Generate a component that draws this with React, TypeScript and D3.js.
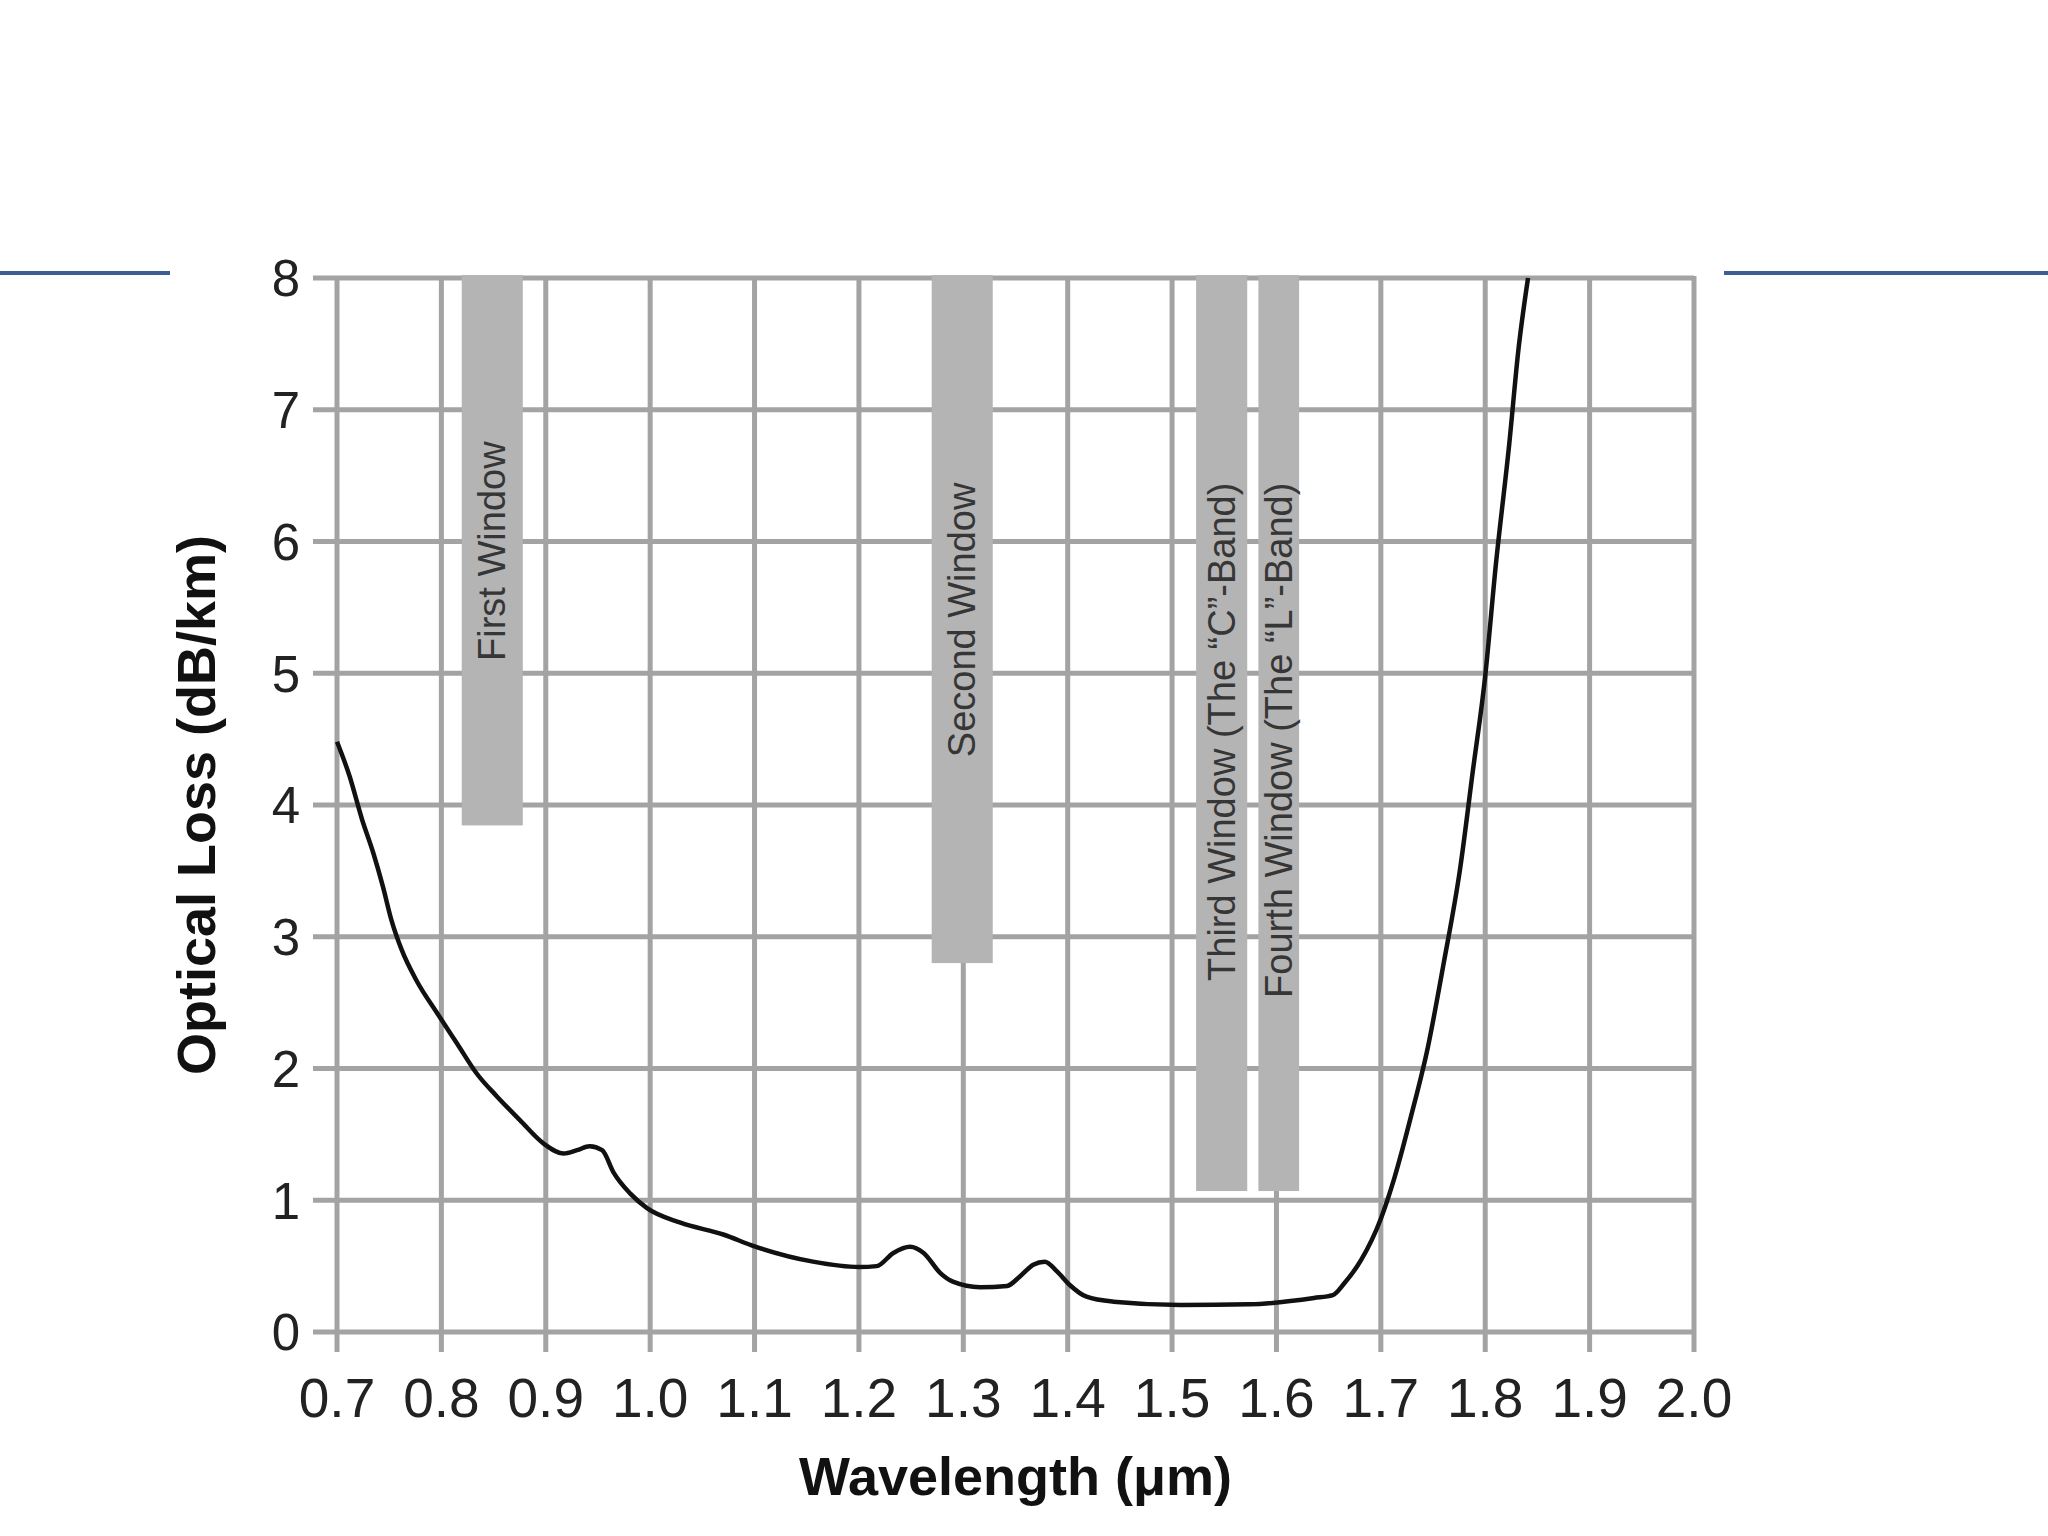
import React from "react";
import * as d3 from "d3";

// ---- Data ----
const wavelengthUm = [
  0.700, 0.712, 0.724, 0.735, 0.744, 0.752, 0.762, 0.776, 0.796, 0.815, 0.834, 0.853, 0.875, 0.898,
  0.917, 0.930, 0.942, 0.954, 0.965, 0.981, 0.997, 1.029, 1.070, 1.100, 1.156, 1.200, 1.217, 1.233,
  1.249, 1.262, 1.278, 1.290, 1.316, 1.342, 1.354, 1.367, 1.378, 1.390, 1.402, 1.418, 1.444, 1.508,
  1.574, 1.636, 1.654, 1.665, 1.681, 1.700, 1.713, 1.729, 1.745, 1.760, 1.776, 1.788, 1.800, 1.810,
  1.823, 1.832, 1.841,
];
const lossDbPerKm = [
  4.48, 4.22, 3.89, 3.63, 3.38, 3.13, 2.90, 2.67, 2.42, 2.19, 1.96, 1.79, 1.61, 1.43,
  1.355, 1.38, 1.41, 1.38, 1.21, 1.05, 0.94, 0.83, 0.74, 0.65, 0.534, 0.493, 0.50, 0.60,
  0.647, 0.60, 0.447, 0.382, 0.34, 0.35, 0.42, 0.51, 0.534, 0.458, 0.357, 0.268, 0.23, 0.205,
  0.21, 0.258, 0.28, 0.37, 0.545, 0.86, 1.17, 1.64, 2.16, 2.79, 3.52, 4.25, 4.98, 5.81,
  6.74, 7.47, 8.0,
];

const bandLabels = [
  "First Window",
  "Second Window",
  "Third Window (The \u201CC\u201D-Band)",
  "Fourth Window (The \u201CL\u201D-Band)",
];
const bandStart = [0.8195, 1.2697, 1.523, 1.5827];
const bandEnd = [0.8780, 1.3282, 1.572, 1.6217];
const bandBottom = [3.845, 2.80, 1.07, 1.07];
const bandLabelTop = [6.76, 6.447, 6.447, 6.447];

const xTicks = [0.7, 0.8, 0.9, 1.0, 1.1, 1.2, 1.3, 1.4, 1.5, 1.6, 1.7, 1.8, 1.9, 2.0];
const yTicks = [0, 1, 2, 3, 4, 5, 6, 7, 8];

const xTitle = "Wavelength (\u03BCm)";
const yTitle = "Optical Loss (dB/km)";

export default function App() {
  const W = 2048;
  const H = 1536;
  const x = d3.scaleLinear().domain([0.7, 2.0]).range([337, 1694]);
  const y = d3.scaleLinear().domain([0, 8]).range([1332, 278]);

  const pts: [number, number][] = wavelengthUm.map((w, i) => [w, lossDbPerKm[i]]);
  const line = d3
    .line<[number, number]>()
    .x((d) => x(d[0]))
    .y((d) => y(d[1]))
    .curve(d3.curveMonotoneX);

  const gridColor = "#a3a3a3";
  const font = "'Liberation Sans', Arial, Helvetica, sans-serif";

  return (
    <svg
      width={W}
      height={H}
      style={{ position: "absolute", left: 0, top: 0, background: "#fff" }}
      fontFamily={font}
    >
      <rect x={0} y={0} width={W} height={H} fill="#ffffff" />
      {/* blue decorative rules */}
      <line x1={0} x2={170} y1={273} y2={273} stroke="#3b5f94" strokeWidth={4} />
      <line x1={1724} x2={2048} y1={273} y2={273} stroke="#3b5f94" strokeWidth={4} />

      {/* grid */}
      {yTicks.map((t) => (
        <line key={"h" + t} x1={313} x2={x(2.0)} y1={y(t)} y2={y(t)} stroke={gridColor} strokeWidth={5} />
      ))}
      {xTicks.map((t) => (
        <line key={"v" + t} x1={x(t)} x2={x(t)} y1={y(8) - 2} y2={1352} stroke={gridColor} strokeWidth={5} />
      ))}

      {/* bands */}
      {bandLabels.map((lab, i) => {
        const x0 = x(bandStart[i]);
        const x1 = x(bandEnd[i]);
        const cx = (x0 + x1) / 2;
        const ty = y(bandLabelTop[i]);
        return (
          <g key={lab}>
            <rect x={x0} y={y(8) - 3} width={x1 - x0} height={y(bandBottom[i]) - y(8) + 3} fill="#b4b4b4" />
            <text
              transform={`translate(${cx + 13},${ty}) rotate(-90)`}
              textAnchor="end"
              fontSize={38}
              fill="#363636"
            >
              {lab}
            </text>
          </g>
        );
      })}

      {/* curve */}
      <path d={line(pts) || ""} fill="none" stroke="#111" strokeWidth={4.5} strokeLinejoin="round" />

      {/* y tick labels */}
      {yTicks.map((t) => (
        <text key={"yl" + t} x={300} y={y(t)} dy="0.36em" textAnchor="end" fontSize={51} fill="#222">
          {t}
        </text>
      ))}
      {/* x tick labels */}
      {xTicks.map((t) => (
        <text key={"xl" + t} x={x(t)} y={1417} textAnchor="middle" fontSize={55} fill="#222">
          {t.toFixed(1)}
        </text>
      ))}

      {/* titles */}
      <text x={x(1.35)} y={1495} textAnchor="middle" fontSize={54} fontWeight="bold" fill="#111">
        {xTitle}
      </text>
      <text
        transform={`translate(215,${y(4)}) rotate(-90)`}
        textAnchor="middle"
        fontSize={54}
        fontWeight="bold"
        fill="#111"
      >
        {yTitle}
      </text>
    </svg>
  );
}
